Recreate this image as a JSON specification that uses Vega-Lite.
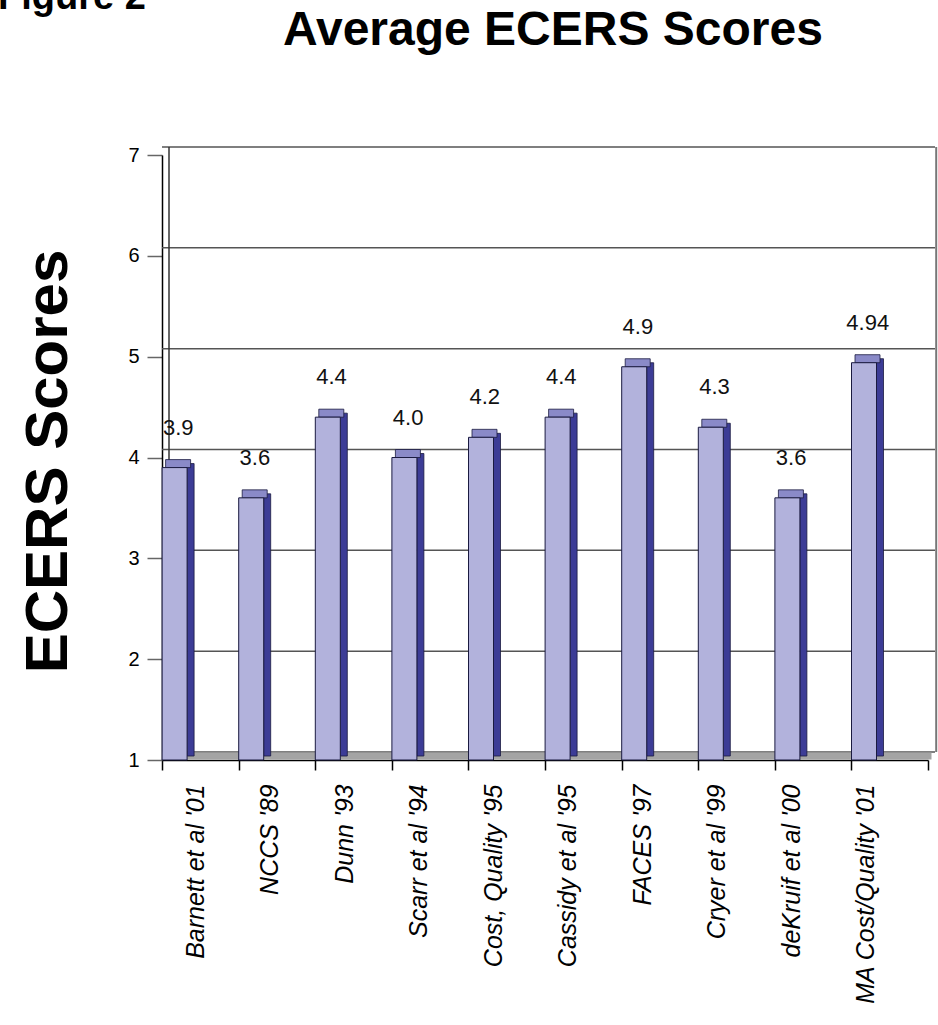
{
  "$schema": "https://vega.github.io/schema/vega-lite/v6.json",
  "background": "white",
  "padding": {"left": -2, "top": -21, "right": 0, "bottom": 0},
  "title": {"text": "Figure 2", "anchor": "start", "frame": "bounds", "fontSize": 38, "font": "Liberation Sans", "fontWeight": "bold", "color": "#000000", "offset": -10, "dx": -20},
  "config": {"view": {"stroke": null}, "concat": {"spacing": 0}},
  "datasets": {
    "scores": [
      {"study": "Barnett et al '01", "score": 3.9, "label": "3.9"},
      {"study": "NCCS '89", "score": 3.6, "label": "3.6"},
      {"study": "Dunn '93", "score": 4.4, "label": "4.4"},
      {"study": "Scarr et al '94", "score": 4.0, "label": "4.0"},
      {"study": "Cost, Quality '95", "score": 4.2, "label": "4.2"},
      {"study": "Cassidy et al '95", "score": 4.4, "label": "4.4"},
      {"study": "FACES '97", "score": 4.9, "label": "4.9"},
      {"study": "Cryer et al '99", "score": 4.3, "label": "4.3"},
      {"study": "deKruif et al '00", "score": 3.6, "label": "3.6"},
      {"study": "MA Cost/Quality '01", "score": 4.94, "label": "4.94"}
    ],
    "grid": [{"g": 1}, {"g": 2}, {"g": 3}, {"g": 4}, {"g": 5}, {"g": 6}, {"g": 7}]
  },
  "vconcat": [
    {
      "width": 766,
      "height": 605,
      "title": {"text": "Average ECERS Scores", "fontSize": 48, "font": "Liberation Sans", "fontWeight": "bold", "anchor": "middle", "dx": 8, "offset": 90, "color": "#000000"},
      "layer": [
        {
          "data": {"name": "grid"},
          "mark": {"type": "rule", "color": "#555555", "strokeWidth": 1.5, "xOffset": 7, "x2Offset": 9, "yOffset": -8},
          "encoding": {
            "y": {"field": "g", "type": "quantitative", "title": "ECERS Scores", "scale": {"domain": [1, 7], "nice": false, "zero": false}}
          }
        },
        {
          "data": {"name": "scores"},
          "mark": {"type": "rule", "color": "#333333", "strokeWidth": 1.5, "xOffset": -31.3, "yOffset": -8, "y2Offset": -8},
          "transform": [{"filter": "datum.study === \"Barnett et al '01\""}],
          "encoding": {
            "x": {"field": "study", "type": "nominal", "title": null, "sort": ["Barnett et al '01", "NCCS '89", "Dunn '93", "Scarr et al '94", "Cost, Quality '95", "Cassidy et al '95", "FACES '97", "Cryer et al '99", "deKruif et al '00", "MA Cost/Quality '01"]},
            "y": {"datum": 7, "type": "quantitative", "title": "ECERS Scores"},
            "y2": {"datum": 1}
          }
        },
        {
          "data": {"name": "scores"},
          "mark": {"type": "rule", "color": "#777777", "strokeWidth": 2, "xOffset": 46.5, "yOffset": -8, "y2Offset": -8},
          "transform": [{"filter": "datum.study === \"MA Cost/Quality '01\""}],
          "encoding": {
            "x": {"field": "study", "type": "nominal", "title": null, "sort": ["Barnett et al '01", "NCCS '89", "Dunn '93", "Scarr et al '94", "Cost, Quality '95", "Cassidy et al '95", "FACES '97", "Cryer et al '99", "deKruif et al '00", "MA Cost/Quality '01"]},
            "y": {"datum": 7, "type": "quantitative", "title": "ECERS Scores"},
            "y2": {"datum": 1}
          }
        },
        {
          "data": {"name": "grid"},
          "transform": [{"filter": "datum.g === 1"}],
          "mark": {"type": "rule", "color": "#a4a4a4", "strokeWidth": 7, "xOffset": 3.5, "x2Offset": 3.5, "yOffset": -4},
          "encoding": {
            "y": {"field": "g", "type": "quantitative", "title": "ECERS Scores"}
          }
        },
        {
          "data": {"name": "scores"},
          "mark": {"type": "bar", "color": "#3c3c96", "stroke": "#1a1a40", "strokeWidth": 0.8, "width": 7, "xOffset": -9.7, "yOffset": -4, "y2Offset": -4},
          "encoding": {
            "x": {"field": "study", "type": "nominal", "title": null, "sort": ["Barnett et al '01", "NCCS '89", "Dunn '93", "Scarr et al '94", "Cost, Quality '95", "Cassidy et al '95", "FACES '97", "Cryer et al '99", "deKruif et al '00", "MA Cost/Quality '01"]},
            "y": {"field": "score", "type": "quantitative", "title": "ECERS Scores"},
            "y2": {"datum": 1}
          }
        },
        {
          "data": {"name": "scores"},
          "mark": {"type": "bar", "color": "#8a8ac8", "stroke": "#1a1a40", "strokeWidth": 0.8, "width": 25, "xOffset": -22.2, "yOffset": -8},
          "encoding": {
            "x": {"field": "study", "type": "nominal", "title": null, "sort": ["Barnett et al '01", "NCCS '89", "Dunn '93", "Scarr et al '94", "Cost, Quality '95", "Cassidy et al '95", "FACES '97", "Cryer et al '99", "deKruif et al '00", "MA Cost/Quality '01"]},
            "y": {"field": "score", "type": "quantitative", "title": "ECERS Scores"},
            "y2": {"field": "score"}
          }
        },
        {
          "data": {"name": "scores"},
          "mark": {"type": "bar", "color": "#b2b2dc", "stroke": "#1a1a40", "strokeWidth": 1, "width": 25, "xOffset": -25.7},
          "encoding": {
            "x": {
              "field": "study", "type": "nominal", "title": null,
              "sort": ["Barnett et al '01", "NCCS '89", "Dunn '93", "Scarr et al '94", "Cost, Quality '95", "Cassidy et al '95", "FACES '97", "Cryer et al '99", "deKruif et al '00", "MA Cost/Quality '01"],
              "scale": {"paddingInner": 0, "paddingOuter": 0},
              "axis": {
                "labelAngle": -90, "labelFont": "Liberation Sans", "labelFontStyle": "italic", "labelFontSize": 25, "labelLimit": 400,
                "labelColor": "#000000", "labelPadding": 14, "tickSize": 10, "tickBand": "extent",
                "tickColor": "#000000", "tickWidth": 1.5, "domainColor": "#000000", "domainWidth": 1.5,
                "labelOffset": {"expr": "-5 - 19 * datum.index"}
              }
            },
            "y": {
              "field": "score", "type": "quantitative", "title": "ECERS Scores",
              "axis": {
                "values": [1, 2, 3, 4, 5, 6, 7], "format": "d", "grid": false, "tickSize": 15, "tickColor": "#666666", "tickWidth": 1.5,
                "domainColor": "#000000", "domainWidth": 1.5,
                "labelFont": "Liberation Sans", "labelFontSize": 20, "labelColor": "#000000", "labelPadding": 8,
                "titleFont": "Liberation Sans", "titleFontSize": 60, "titleFontWeight": "bold", "titleColor": "#000000",
                "titleX": -96, "titleY": 306, "titleBaseline": "alphabetic", "titleAlign": "center", "titleAngle": -90
              }
            },
            "y2": {"datum": 1}
          }
        },
        {
          "data": {"name": "scores"},
          "mark": {"type": "text", "font": "Liberation Sans", "fontSize": 22, "color": "#111111", "baseline": "middle", "xOffset": -22, "yOffset": -40},
          "encoding": {
            "x": {"field": "study", "type": "nominal", "title": null, "sort": ["Barnett et al '01", "NCCS '89", "Dunn '93", "Scarr et al '94", "Cost, Quality '95", "Cassidy et al '95", "FACES '97", "Cryer et al '99", "deKruif et al '00", "MA Cost/Quality '01"]},
            "y": {"field": "score", "type": "quantitative", "title": "ECERS Scores"},
            "text": {"field": "label"}
          }
        }
      ]
    }
  ]
}
